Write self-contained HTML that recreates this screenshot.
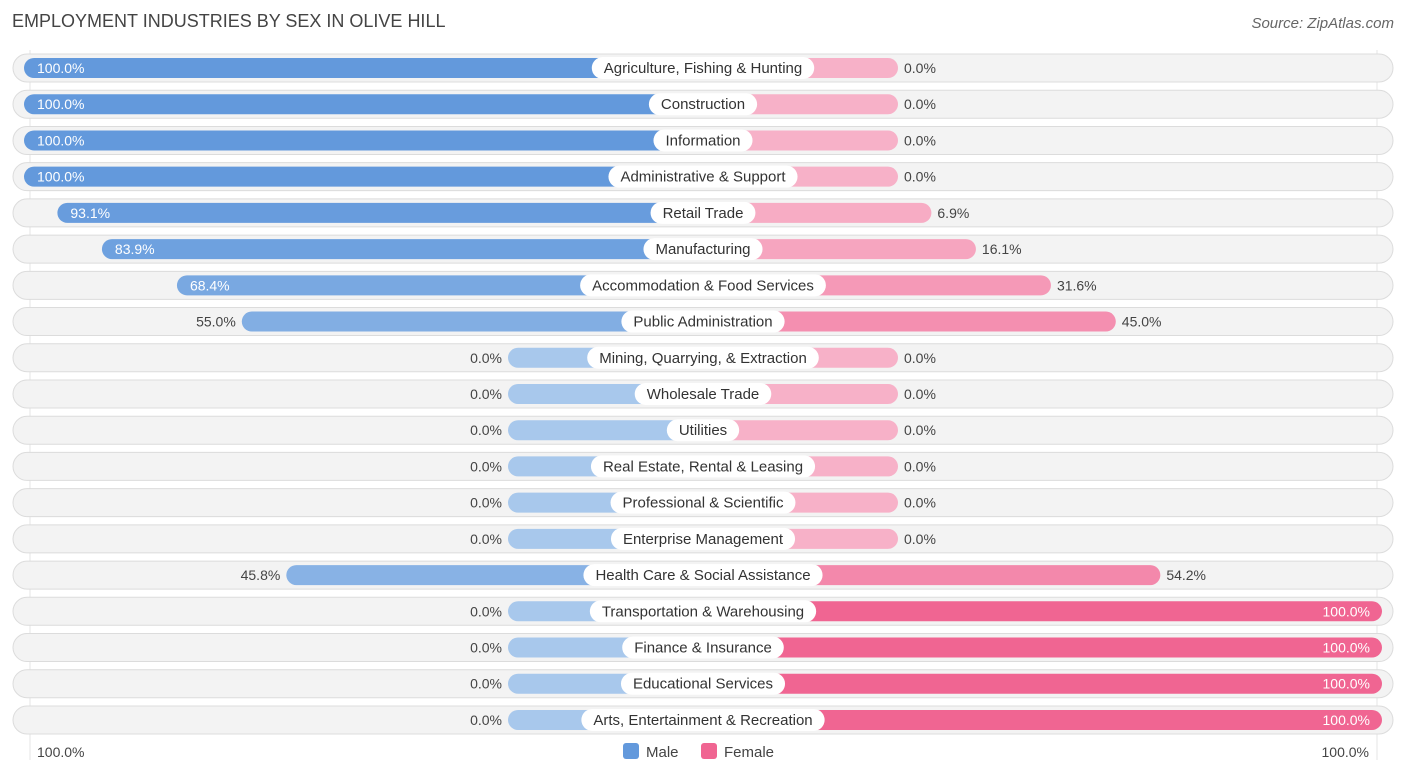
<!DOCTYPE html>
<html><head><meta charset="utf-8"><style>
body{margin:0;width:1406px;height:776px;background:#fff;font-family:"Liberation Sans",sans-serif;position:relative;overflow:hidden}
.t{position:absolute;white-space:nowrap}
</style></head><body>
<div class="t" style="left:12px;top:11px;font-size:18px;color:#444">EMPLOYMENT INDUSTRIES BY SEX IN OLIVE HILL</div>
<div class="t" style="right:12px;top:15px;font-size:15px;color:#666;font-style:italic">Source: ZipAtlas.com</div>
<svg id="c" width="1406" height="776" style="position:absolute;left:0;top:0"></svg>
<script>
const categories=["Agriculture, Fishing & Hunting","Construction","Information","Administrative & Support","Retail Trade","Manufacturing","Accommodation & Food Services","Public Administration","Mining, Quarrying, & Extraction","Wholesale Trade","Utilities","Real Estate, Rental & Leasing","Professional & Scientific","Enterprise Management","Health Care & Social Assistance","Transportation & Warehousing","Finance & Insurance","Educational Services","Arts, Entertainment & Recreation"];
const male=[100,100,100,100,93.1,83.9,68.4,55.0,0,0,0,0,0,0,45.8,0,0,0,0];
const female=[0,0,0,0,6.9,16.1,31.6,45.0,0,0,0,0,0,0,54.2,100,100,100,100];
const axisLabels=["100.0%","100.0%"];
const svg=document.getElementById('c');const NS='http://www.w3.org/2000/svg';
function mk(t,a,p){const e=document.createElementNS(NS,t);for(const k in a)e.setAttribute(k,a[k]);(p||svg).appendChild(e);return e;}
const cx=703,minW=195,scale=4.84;
function y(i){return 68+i*36.22;}
function xM(v){return cx-minW-v*scale;}
function xF(v){return cx+minW+v*scale;}
function mix(a,b,t){return 'rgb('+a.map((c,i)=>Math.round(c+(b[i]-c)*t)).join(',')+')';}
mk('line',{x1:30,y1:50,x2:30,y2:760,stroke:'#e4e4e4'});
mk('line',{x1:1377,y1:50,x2:1377,y2:760,stroke:'#e4e4e4'});
categories.forEach((c,i)=>{
 const yc=y(i);
 const bg=mk('rect',{x:13,y:yc-14,width:1380,height:28,rx:14,fill:'#f3f3f3',stroke:'#dcdcdc'});
 
 const mx=xM(male[i]);
 const mb=mk('rect',{x:mx,y:yc-10,width:cx-mx,height:20,rx:10,fill:mix([168,200,236],[99,153,220],male[i]/100)});
 
 const fx=xF(female[i]);
 const fb=mk('rect',{x:cx,y:yc-10,width:fx-cx,height:20,rx:10,fill:mix([247,177,200],[240,101,146],female[i]/100)});
 
 const lb=mk('rect',{x:cx-50,y:yc-11,width:100,height:22,rx:11,fill:'#fff'});
 
 const lt=mk('text',{x:cx,y:yc+5,'text-anchor':'middle','font-size':15,fill:'#333'});lt.textContent=c;
 
 const w=lt.getComputedTextLength()+24;
 lb.setAttribute('x',cx-w/2);lb.setAttribute('width',w);
 const mt=male[i]>60?mk('text',{x:mx+13,y:yc+5,'font-size':14,fill:'#fff'}):mk('text',{x:mx-6,y:yc+5,'text-anchor':'end','font-size':14,fill:'#444'});
 mt.textContent=male[i].toFixed(1)+'%';
 const ft=female[i]>60?mk('text',{x:fx-12,y:yc+5,'text-anchor':'end','font-size':14,fill:'#fff'}):mk('text',{x:fx+6,y:yc+5,'font-size':14,fill:'#444'});
 ft.textContent=female[i].toFixed(1)+'%';
});
const a1=mk('text',{x:37,y:757,'font-size':14,fill:'#444'});a1.textContent=axisLabels[0];

const a2=mk('text',{x:1369,y:757,'text-anchor':'end','font-size':14,fill:'#444'});a2.textContent=axisLabels[1];

const l1=mk('rect',{x:623,y:743,width:16,height:16,rx:3,fill:'#6399dc'});

const l1t=mk('text',{x:646,y:757,'font-size':15,fill:'#444'});l1t.textContent='Male';

const l2=mk('rect',{x:701,y:743,width:16,height:16,rx:3,fill:'#f06592'});

const l2t=mk('text',{x:724,y:757,'font-size':15,fill:'#444'});l2t.textContent='Female';

</script>
</body></html>
